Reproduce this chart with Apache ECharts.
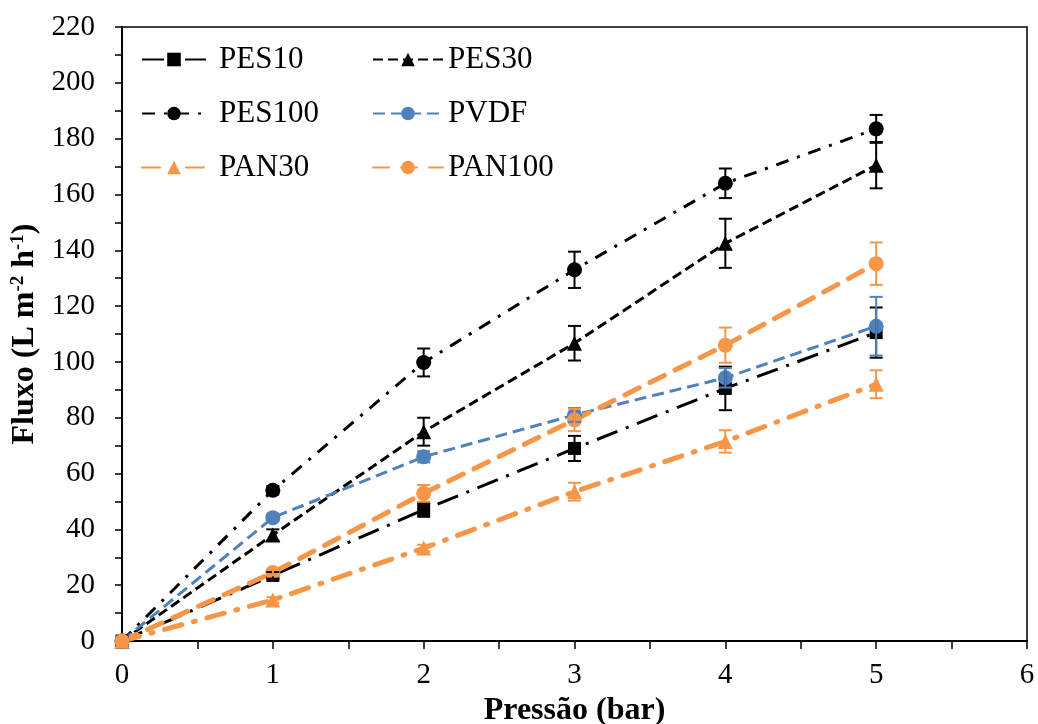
<!DOCTYPE html>
<html>
<head>
<meta charset="utf-8">
<script src="https://cdn.jsdelivr.net/npm/echarts@6/dist/echarts.min.js"></script>
<style>
  html, body { margin: 0; padding: 0; background: #fff; }
  #chart { width: 1038px; height: 724px; }
</style>
</head>
<body>
<div id="chart"></div>
<script>
// Pressure (bar)
const pressures = [0, 1, 2, 3, 4, 5];

// Flux values (L m-2 h-1) and standard deviations
const pes10 = [0, 23.5, 47, 69, 90.5, 110.5];
const pes10Err = [0, 1.2, 2.5, 4.5, 7.8, 9];
const pes30 = [0, 38, 75, 106.7, 142.5, 170.5];
const pes30Err = [0, 2, 5, 6.2, 8.8, 8.3];
const pes100 = [0, 54, 99.8, 133, 164, 183.5];
const pes100Err = [0, 1.5, 5, 6.5, 5.3, 5];
const pvdf = [0, 44.2, 66, 81, 94.3, 112.8];
const pvdfErr = [0, 1, 2, 2.5, 3.5, 10.5];
const pan30 = [0, 14.7, 33.3, 53.5, 71.5, 92];
const pan30Err = [0, 1, 1.2, 3.2, 4, 5];
const pan100 = [0, 24.5, 52.9, 79.2, 106, 135.2];
const pan100Err = [0, 1, 3, 4, 6.3, 7.6];

const FONT = 'Liberation Serif';
const BLACK = '#000000';
const BLUE = '#4F81BD';
const ORANGE = '#F79646';

function pairs(vals) {
  return pressures.map((p, i) => [p, vals[i]]);
}

function lineSeries(name, vals, color, symbol, size, width, dash, cap) {
  return {
    name: name,
    type: 'line',
    data: pairs(vals),
    symbol: symbol,
    symbolSize: size,
    showAllSymbol: true,
    itemStyle: { color: color },
    lineStyle: { color: color, width: width, type: dash, cap: cap || 'butt' },
    z: 3
  };
}

function errorSeries(vals, errs, color) {
  return {
    type: 'custom',
    data: pressures.map((p, i) => [p, vals[i], errs[i]]),
    renderItem: function (params, api) {
      const x = api.value(0);
      const y = api.value(1);
      const e = api.value(2);
      if (!e) return null;
      const top = api.coord([x, y + e]);
      const bot = api.coord([x, y - e]);
      const hw = 6.5;
      const style = { stroke: color, lineWidth: 2 };
      return {
        type: 'group',
        children: [
          { type: 'line', shape: { x1: top[0], y1: top[1], x2: bot[0], y2: bot[1] }, style: style },
          { type: 'line', shape: { x1: top[0] - hw, y1: top[1], x2: top[0] + hw, y2: top[1] }, style: style },
          { type: 'line', shape: { x1: bot[0] - hw, y1: bot[1], x2: bot[0] + hw, y2: bot[1] }, style: style }
        ]
      };
    },
    z: 4,
    silent: true
  };
}

const legendText = { fontFamily: FONT, fontSize: 31, color: '#000' };

const option = {
  animation: false,
  backgroundColor: '#fff',
  grid: {
    left: 122, right: 11, top: 27, bottom: 83,
    containLabel: false,
    outerBoundsMode: 'none',
    show: true, borderColor: '#000', borderWidth: 1.5, backgroundColor: 'transparent'
  },
  legend: [
    {
      orient: 'vertical', left: 136, top: 39,
      itemWidth: 64, itemHeight: 17, itemGap: 23,
      selectedMode: false,
      textStyle: Object.assign({}, legendText, { padding: [0, 0, 0, 8] }),
      data: ['PES10', 'PES100', 'PAN30']
    },
    {
      orient: 'vertical', left: 367, top: 39,
      itemWidth: 70, itemHeight: 17, itemGap: 23,
      selectedMode: false,
      textStyle: legendText,
      data: ['PES30', 'PVDF', 'PAN100']
    }
  ],
  xAxis: {
    type: 'value',
    min: 0, max: 6, interval: 1,
    name: 'Pressão (bar)',
    nameLocation: 'middle',
    nameGap: 52,
    nameTextStyle: { fontFamily: FONT, fontSize: 32, fontWeight: 'bold', color: '#000' },
    axisLine: { show: true, lineStyle: { color: '#000', width: 2 } },
    axisTick: { show: true, inside: false, length: 8, lineStyle: { color: '#000', width: 1.5 } },
    minorTick: { show: true, splitNumber: 2, length: 8, lineStyle: { color: '#000', width: 1.5 } },
    splitLine: { show: false },
    axisLabel: { fontFamily: FONT, fontSize: 29, color: '#000', margin: 20 }
  },
  yAxis: {
    type: 'value',
    min: 0, max: 220, interval: 20,
    name: 'Fluxo (L m{sup|-2} h{sup|-1})',
    nameLocation: 'middle',
    nameGap: 76,
    nameTextStyle: {
      fontFamily: FONT, fontSize: 32, fontWeight: 'bold', color: '#000',
      rich: {
        sup: { fontFamily: FONT, fontSize: 19, fontWeight: 'bold', color: '#000', verticalAlign: 'top', lineHeight: 30 }
      }
    },
    axisLine: { show: true, lineStyle: { color: '#000', width: 2 } },
    axisTick: { show: true, inside: false, length: 7, lineStyle: { color: '#000', width: 1.5 } },
    minorTick: { show: true, splitNumber: 2, length: 7, lineStyle: { color: '#000', width: 1.5 } },
    splitLine: { show: false },
    axisLabel: { fontFamily: FONT, fontSize: 29, color: '#000', margin: 27 }
  },
  series: [
    lineSeries('PES10', pes10, BLACK, 'rect', 13, 3, [22, 9, 3, 9]),
    lineSeries('PES30', pes30, BLACK, 'triangle', 15, 3, [10, 5]),
    lineSeries('PES100', pes100, BLACK, 'circle', 15, 3, [13, 9, 3, 9]),
    lineSeries('PVDF', pvdf, BLUE, 'circle', 15, 3, [12, 6]),
    lineSeries('PAN30', pan30, ORANGE, 'triangle', 15, 5, [18, 12, 2, 12], 'round'),
    lineSeries('PAN100', pan100, ORANGE, 'circle', 15, 5, [16, 12], 'round'),
    errorSeries(pes10, pes10Err, BLACK),
    errorSeries(pes30, pes30Err, BLACK),
    errorSeries(pes100, pes100Err, BLACK),
    errorSeries(pvdf, pvdfErr, BLUE),
    errorSeries(pan30, pan30Err, ORANGE),
    errorSeries(pan100, pan100Err, ORANGE)
  ]
};

const chart = echarts.init(document.getElementById('chart'), null, { renderer: 'canvas' });
chart.setOption(option);
</script>
</body>
</html>
